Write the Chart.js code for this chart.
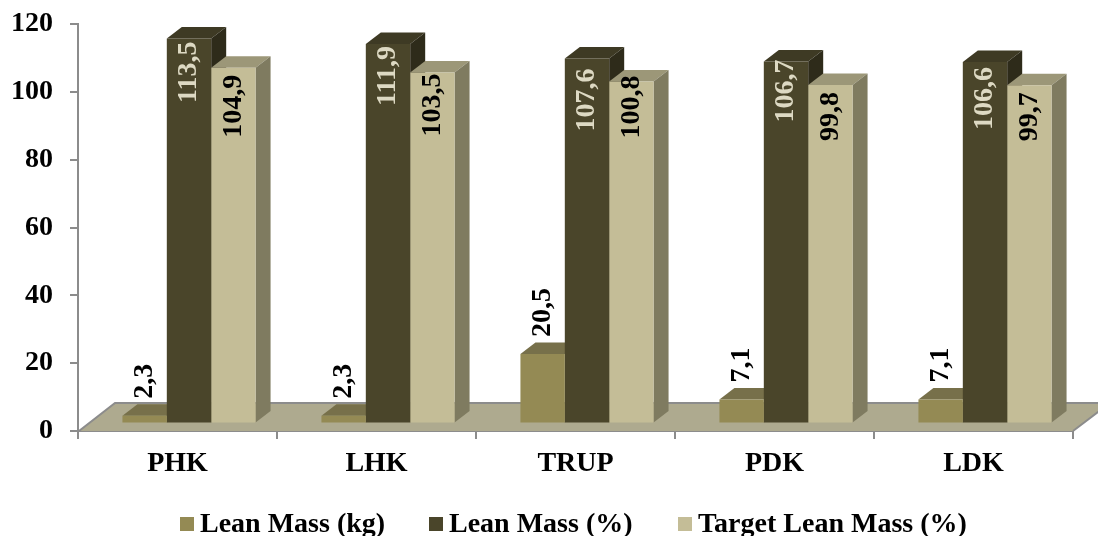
<!DOCTYPE html>
<html>
<head>
<meta charset="utf-8">
<style>
  html, body { margin: 0; padding: 0; background: #fff; }
  #wrap { width: 1098px; height: 536px; }
</style>
<script src="https://cdn.jsdelivr.net/npm/chart.js@4"></script>
</head>
<body>
<div id="wrap"><canvas id="chart1" width="1098" height="536"></canvas></div>
<script>
const regions = ['PHK', 'LHK', 'TRUP', 'PDK', 'LDK'];
const leanMassKg = [2.3, 2.3, 20.5, 7.1, 7.1];
const leanMassPct = [113.5, 111.9, 107.6, 106.7, 106.6];
const targetLeanMassPct = [104.9, 103.5, 100.8, 99.8, 99.7];

const FONT = 'bold 28px "Liberation Serif"';
const AXIS_GRAY = '#8c8c8c';

// extruded look of the bars: how far the back edge sits from the front face
const DEPTH_X = 15;
const DEPTH_Y = 11.5;
// bars stand on the floor, a little in from its front edge
const SHIFT_X = 11.5;
const SHIFT_Y = 7.5;

function poly(ctx, pts, fill) {
    ctx.fillStyle = fill;
    ctx.beginPath();
    pts.forEach((p, i) => i ? ctx.lineTo(p[0], p[1]) : ctx.moveTo(p[0], p[1]));
    ctx.closePath();
    ctx.fill();
}

const bars3d = {
    id: 'bars3d',
    beforeDatasetsDraw(chart) {
        const ctx = chart.ctx;
        const area = chart.chartArea;

        // floor, its far right corner runs off the canvas
        const backY = area.bottom - 28;
        poly(ctx, [[area.left + 1, area.bottom], [area.left + 37, backY],
            [area.right + 37, backY], [area.right, area.bottom]], '#aeaa8f');
        ctx.strokeStyle = AXIS_GRAY;
        ctx.lineWidth = 2;
        ctx.beginPath();
        ctx.moveTo(area.left + 1, area.bottom);
        ctx.lineTo(area.left + 37, backY);
        ctx.lineTo(area.right + 37, backY);
        ctx.lineTo(area.right, area.bottom);
        ctx.stroke();

        ctx.save();
        ctx.translate(SHIFT_X, -SHIFT_Y);
        chart.data.datasets.forEach((ds, i) => {
            chart.getDatasetMeta(i).data.forEach(bar => {
                const l = bar.x - bar.width / 2;
                const r = bar.x + bar.width / 2;
                poly(ctx, [[l, bar.y], [l + DEPTH_X, bar.y - DEPTH_Y],
                    [r + DEPTH_X, bar.y - DEPTH_Y], [r, bar.y]], ds.topColor);
                poly(ctx, [[r, bar.y], [r + DEPTH_X, bar.y - DEPTH_Y],
                    [r + DEPTH_X, bar.base - DEPTH_Y], [r, bar.base]], ds.sideColor);
            });
        });
        // front faces get drawn by the library inside this same shift
    },
    afterDatasetsDraw(chart) {
        const ctx = chart.ctx;
        ctx.restore();

        // value labels, rotated, comma as decimal mark
        ctx.save();
        ctx.font = FONT;
        ctx.textBaseline = 'middle';
        chart.data.datasets.forEach((ds, i) => {
            chart.getDatasetMeta(i).data.forEach((bar, j) => {
                const txt = String(ds.data[j].toFixed(1)).replace('.', ',');
                ctx.save();
                ctx.translate(bar.x + SHIFT_X, bar.y - SHIFT_Y + ds.labelNudge[j]);
                ctx.rotate(-Math.PI / 2);
                ctx.textAlign = ds.labelOutside ? 'left' : 'right';
                ctx.fillStyle = ds.labelColor;
                ctx.fillText(txt, 0, 0);
                ctx.restore();
            });
        });
        ctx.restore();

        // legend row
        ctx.save();
        ctx.font = FONT;
        ctx.textBaseline = 'middle';
        ctx.textAlign = 'left';
        const legendX = [180, 429, 678];
        chart.data.datasets.forEach((ds, i) => {
            ctx.fillStyle = ds.backgroundColor;
            ctx.fillRect(legendX[i], 517, 14, 14);
            ctx.fillStyle = '#000';
            ctx.fillText(ds.label, legendX[i] + 20, 525);
        });
        ctx.restore();
    }
};

const config = {
    type: 'bar',
    data: {
        labels: regions,
        datasets: [{
            label: 'Lean Mass (kg)',
            data: leanMassKg,
            backgroundColor: '#948a54',
            topColor: '#77704a',
            sideColor: '#6e6a4c',
            labelColor: '#000',
            labelOutside: true,
            labelNudge: [-17, -17, -17, -17, -17]
        },
        {
            label: 'Lean Mass (%)',
            data: leanMassPct,
            backgroundColor: '#4a452a',
            topColor: '#3e3a24',
            sideColor: '#2e2b1a',
            labelColor: '#ddd9c3',
            labelOutside: false,
            labelNudge: [3, 2, 10, -2, 5]
        },
        {
            label: 'Target Lean Mass (%)',
            data: targetLeanMassPct,
            backgroundColor: '#c4bd97',
            topColor: '#9c9778',
            sideColor: '#7f7b60',
            labelColor: '#000',
            labelOutside: false,
            labelNudge: [7, 1, -6, 7, 7]
        }]
    },
    options: {
        responsive: false,
        animation: false,
        layout: {
            padding: { top: 24, right: 25 }
        },
        datasets: {
            bar: {
                barPercentage: 1,
                categoryPercentage: 0.669
            }
        },
        plugins: {
            legend: { display: false },
            tooltip: { enabled: false }
        },
        scales: {
            x: {
                afterFit(scale) { scale.height = 105; },
                grid: {
                    drawOnChartArea: false,
                    color: AXIS_GRAY,
                    lineWidth: 2,
                    tickLength: 8
                },
                border: { color: AXIS_GRAY, width: 2 },
                ticks: {
                    color: '#000',
                    font: { family: 'Liberation Serif', size: 28, weight: 'bold' },
                    padding: 8,
                    maxRotation: 0
                }
            },
            y: {
                min: 0,
                max: 120,
                afterFit(scale) {
                    scale.width = 78;
                    // keep the plot top fixed, the tick padding shouldn't push it down
                    scale.paddingTop = 0;
                    scale.paddingBottom = 0;
                },
                grid: {
                    drawOnChartArea: false,
                    color: AXIS_GRAY,
                    lineWidth: 2,
                    tickLength: 8
                },
                border: { color: AXIS_GRAY, width: 2 },
                ticks: {
                    stepSize: 20,
                    color: '#000',
                    font: { family: 'Liberation Serif', size: 28, weight: 'bold' },
                    padding: 17
                }
            }
        }
    },
    plugins: [bars3d]
};

const ctx1 = document.getElementById('chart1').getContext('2d');
const chart1 = new Chart(ctx1, config);
</script>
</body>
</html>
